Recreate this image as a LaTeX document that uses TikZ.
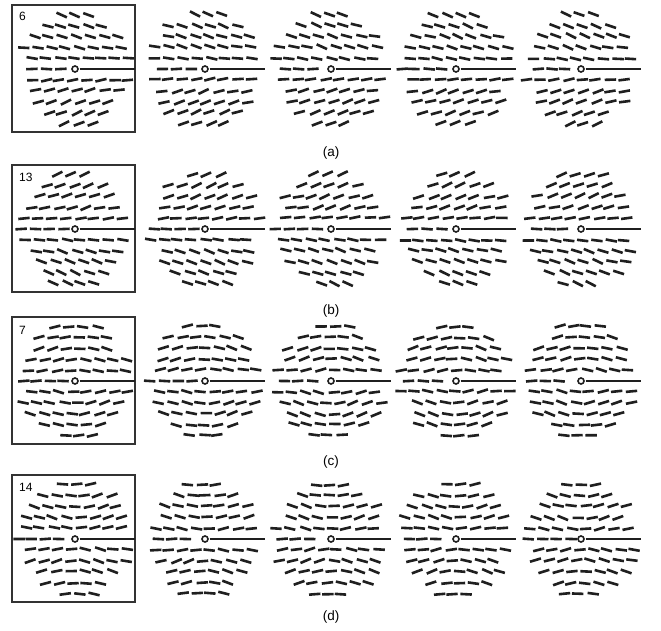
\documentclass[tikz,border=0pt]{standalone}
\usepackage{fontspec}
\setmainfont{Liberation Sans}
\newcommand\dfield[5]{% cx, cy, k, amplitude, seed
  \pgfmathsetseed{#5}
  \begin{scope}[shift={(#1,#2)}]
    \foreach \j in {-5,...,5}{
      \pgfmathsetmacro\yy{\j*10.9+rand*0.8*(\j!=0)}
      \pgfmathsetmacro\hw{sqrt(max(0,3721-\yy*\yy))}
      \pgfmathsetmacro\sh{rand*6}
      \foreach \i in {-5,...,5}{
        \pgfmathsetmacro\xx{\i*13.8+\sh+rand*1.2}
        \pgfmathtruncatemacro\ok{and(abs(\xx)<(\hw-5),or(\j!=0,\xx<-9))}
        \ifnum\ok=1
          \pgfmathsetmacro\ph{atan2(-\yy,\xx)}
          \pgfmathsetmacro\rr{sqrt(\xx*\xx+\yy*\yy)}
          \pgfmathsetmacro\th{#4*sin(#3*\ph)*min(1,\rr/25)+rand*6}
          \pgfmathsetmacro\ddx{5.7*cos(\th)}
          \pgfmathsetmacro\ddy{5.7*sin(\th)}
          \pgfmathsetmacro\xa{\xx-(\ddx)}
          \pgfmathsetmacro\ya{\yy+(\ddy)}
          \pgfmathsetmacro\xb{\xx+(\ddx)}
          \pgfmathsetmacro\yb{\yy-(\ddy)}
          \draw[stroke] (\xa,\ya) -- (\xb,\yb);
        \fi
      }
    }
    \draw[ring] (0,0) circle (3);
    \draw[axisline] (4.5,0) -- (60,0);
  \end{scope}}
\begin{document}
\begin{tikzpicture}[x=1pt,y=-1pt,
  stroke/.style={line width=2.6pt,line cap=butt,black!88},
  ring/.style={line width=1.6pt,black!88},
  axisline/.style={line width=2.5pt,black!88},
  frame/.style={draw,line width=1.1pt,black!80},
  num/.style={font=\fontsize{12}{14}\selectfont,anchor=west,inner sep=0pt},
  captext/.style={font=\fontsize{13.5}{16}\selectfont,inner sep=0pt}]
\useasboundingbox (0,0) rectangle (661,631);
% frames
\draw[frame] (12,5) rectangle (135,132);
\draw[frame] (12,165) rectangle (135,292);
\draw[frame] (12,317) rectangle (135,444);
\draw[frame] (12,475) rectangle (135,602);
\node[num] (na) at (19,16) {6};
\node[num] (nb) at (19,177) {13};
\node[num] (nc) at (19,330) {7};
\node[num] (nd) at (19,487) {14};
% row (a)
\dfield{75}{69}{1}{-22}{11}
\dfield{205}{69}{1}{-22}{12}
\dfield{331}{69}{1}{-22}{13}
\dfield{456}{69}{1}{-22}{14}
\dfield{581}{69}{1}{-22}{15}
% row (b)
\dfield{75}{229}{1}{22}{21}
\dfield{205}{229}{1}{22}{22}
\dfield{331}{229}{1}{22}{23}
\dfield{456}{229}{1}{22}{24}
\dfield{581}{229}{1}{22}{25}
% row (c)
\dfield{75}{381}{2}{-18}{31}
\dfield{205}{381}{2}{-18}{32}
\dfield{331}{381}{2}{-18}{33}
\dfield{456}{381}{2}{-18}{34}
\dfield{581}{381}{2}{-18}{35}
% row (d)
\dfield{75}{539}{2}{18}{41}
\dfield{205}{539}{2}{18}{42}
\dfield{331}{539}{2}{18}{43}
\dfield{456}{539}{2}{18}{44}
\dfield{581}{539}{2}{18}{45}
% captions
\node[captext] (ca) at (331,153) {(a)};
\node[captext] (cb) at (331,311) {(b)};
\node[captext] (cc) at (331,462) {(c)};
\node[captext] (cd) at (331,617) {(d)};
\end{tikzpicture}
\end{document}
